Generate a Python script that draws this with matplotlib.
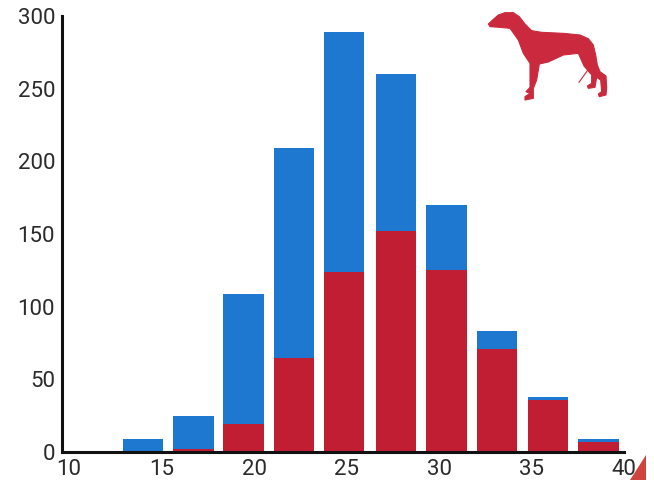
import matplotlib
matplotlib.use('Agg')
import matplotlib.pyplot as plt
from matplotlib.patches import Polygon

plt.rcParams['font.family'] = ['Roboto', 'DejaVu Sans']

# Chart data
bin_centers = [14.01, 16.73, 19.43, 22.16, 24.88, 27.66, 30.41, 33.13, 35.88, 38.63]
blue_values = [9, 25, 109, 209, 289, 260, 170, 83, 38, 9]
red_values = [0, 2, 19, 65, 124, 152, 125, 71, 36, 7]
x_ticks = [10, 15, 20, 25, 30, 35, 40]
y_ticks = [0, 50, 100, 150, 200, 250, 300]

W, H = 654, 480
BLUE = '#1f78d0'
RED = '#c21e33'
DOG_RED = '#cb2a3e'
TEXT = '#2b2b2b'

fig = plt.figure(figsize=(W / 100, H / 100), dpi=100)

# Axes box in pixels: left 62, right 624, top 16, bottom 452
ax = fig.add_axes([62 / W, 1 - 452 / H, (624 - 62) / W, (452 - 16) / H])
ax.bar(bin_centers, blue_values, width=2.18, color=BLUE)
ax.bar(bin_centers, red_values, width=2.18, color=RED)

ax.set_xlim(9.62, 39.92)
ax.set_ylim(0, 300)
ax.set_xticks(x_ticks)
ax.set_yticks(y_ticks)
ax.tick_params(axis='both', length=0, labelsize=16, labelcolor=TEXT)
ax.tick_params(axis='x', pad=5)
ax.tick_params(axis='y', pad=5)
for side in ['top', 'right']:
    ax.spines[side].set_visible(False)
for side in ['left', 'bottom']:
    ax.spines[side].set_linewidth(2.2)
    ax.spines[side].set_color('#111111')

# Overlay in pixel coordinates for the dog and the corner wedge
overlay = fig.add_axes([0, 0, 1, 1])
overlay.set_xlim(0, W)
overlay.set_ylim(H, 0)
overlay.axis('off')

dog_zoom = [(25, 72), (40, 58), (55, 45), (75, 38), (100, 38), (118, 50), (135, 72), (155, 92),
            (185, 97), (250, 100), (300, 105), (325, 116), (340, 135), (347, 165), (352, 195),
            (360, 215), (378, 228), (380, 262), (378, 285), (358, 290), (355, 282), (365, 275),
            (362, 240), (350, 232), (345, 262), (325, 265), (322, 258), (335, 250), (335, 225),
            (312, 198), (295, 160), (250, 165), (205, 186), (178, 192), (170, 240),
            (160, 265), (160, 295), (135, 300), (135, 290), (150, 280), (138, 275),
            (150, 262), (150, 190), (130, 160), (115, 120), (90, 85), (60, 82), (30, 80)]
dog = [(480 + x / 3, y / 3) for x, y in dog_zoom]
overlay.add_patch(Polygon(dog, closed=True, facecolor=DOG_RED, edgecolor=DOG_RED,
                          linewidth=0.8, joinstyle='round'))
overlay.plot([480 + 322 / 3, 480 + 297 / 3], [212 / 3, 247 / 3], color=DOG_RED, linewidth=0.8)

overlay.add_patch(Polygon([(630, 480), (646, 455), (646, 480)], closed=True,
                          facecolor='#d0443f', edgecolor='none'))

fig.savefig('out.png', dpi=100)
